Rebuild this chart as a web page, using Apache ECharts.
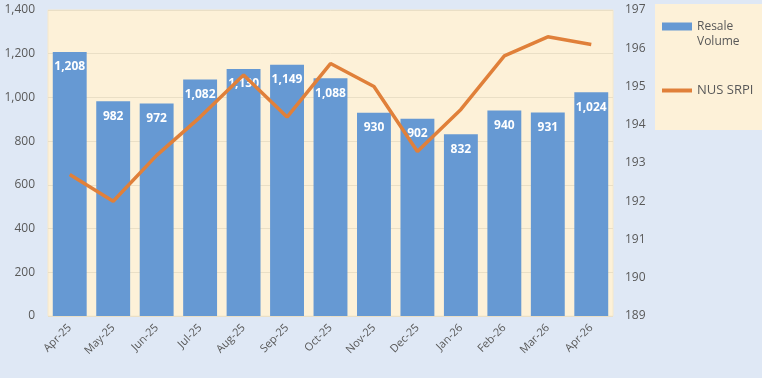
<!DOCTYPE html>
<html>
<head>
<meta charset="utf-8">
<script src="https://cdn.jsdelivr.net/npm/echarts@6/dist/echarts.min.js"></script>
<style>
html, body { margin: 0; padding: 0; background: #dfe8f5; }
#chart { width: 762px; height: 378px; }
</style>
</head>
<body>
<div id="chart"></div>
<script>
var months = ['Apr-25', 'May-25', 'Jun-25', 'Jul-25', 'Aug-25', 'Sep-25', 'Oct-25',
    'Nov-25', 'Dec-25', 'Jan-26', 'Feb-26', 'Mar-26', 'Apr-26'];
var resaleVolume = [1208, 982, 972, 1082, 1130, 1149, 1088, 930, 902, 832, 940, 931, 1024];
var srpi = [192.7, 192.0, 193.2, 194.2, 195.3, 194.2, 195.6, 195.0, 193.3, 194.4, 195.8, 196.3, 196.1];

var chart = echarts.init(document.getElementById('chart'));
var axisText = {color: '#595959', fontSize: 12, fontFamily: 'Open Sans'};

var option = {
    backgroundColor: '#dfe8f5',
    animation: false,
    textStyle: {fontFamily: 'Open Sans'},
    grid: {
        left: 48, right: 149, top: 10, bottom: 62,
        show: true, backgroundColor: '#fdf1d8', borderColor: '#f5e8cc', borderWidth: 1
    },
    legend: {
        orient: 'vertical',
        left: 655, top: 4,
        width: 100,
        backgroundColor: '#fdf1d8',
        padding: [0, 12, 32, 5],
        itemGap: 34,
        itemWidth: 30,
        itemHeight: 8,
        textStyle: {color: '#595959', fontSize: 12, lineHeight: 15},
        formatter: function (name) {
            // blank first line keeps the icon level with "Resale"
            return name === 'Resale Volume' ? '\nResale\nVolume' : name;
        },
        data: [
            {name: 'Resale Volume', icon: 'rect'},
            {name: 'NUS SRPI', textStyle: {fontSize: 13},
                lineStyle: {color: '#e0803a', width: 4},
                itemStyle: {color: 'rgba(0,0,0,0)', borderWidth: 0}}
        ]
    },
    xAxis: [{
        type: 'category',
        data: months,
        axisLine: {show: false},
        axisTick: {show: false},
        axisLabel: Object.assign({}, axisText, {rotate: 45, interval: 0, margin: 10, fontSize: 11})
    }],
    yAxis: [{
        type: 'value',
        min: 0, max: 1400, interval: 200,
        axisLine: {show: false},
        axisTick: {show: false},
        splitLine: {lineStyle: {color: '#eadfc6'}},
        axisLabel: Object.assign({
            margin: 13,
            formatter: function (v) { return v.toLocaleString('en-US'); }
        }, axisText)
    }, {
        type: 'value',
        min: 189, max: 197, interval: 1,
        axisLine: {show: false},
        axisTick: {show: false},
        splitLine: {show: false},
        axisLabel: Object.assign({margin: 12}, axisText)
    }],
    series: [{
        name: 'Resale Volume',
        type: 'bar',
        data: resaleVolume,
        barCategoryGap: '22%',
        itemStyle: {color: '#6699d3'},
        label: {
            show: true,
            position: 'insideTop',
            distance: 9,
            color: '#ffffff',
            fontWeight: 'bold',
            fontSize: 12,
            formatter: function (p) { return p.value.toLocaleString('en-US'); }
        }
    }, {
        name: 'NUS SRPI',
        type: 'line',
        yAxisIndex: 1,
        data: srpi,
        symbol: 'none',
        lineStyle: {color: '#e0803a', width: 3.5},
        itemStyle: {color: '#e0803a'}
    }]
};
chart.setOption(option);
</script>
</body>
</html>
